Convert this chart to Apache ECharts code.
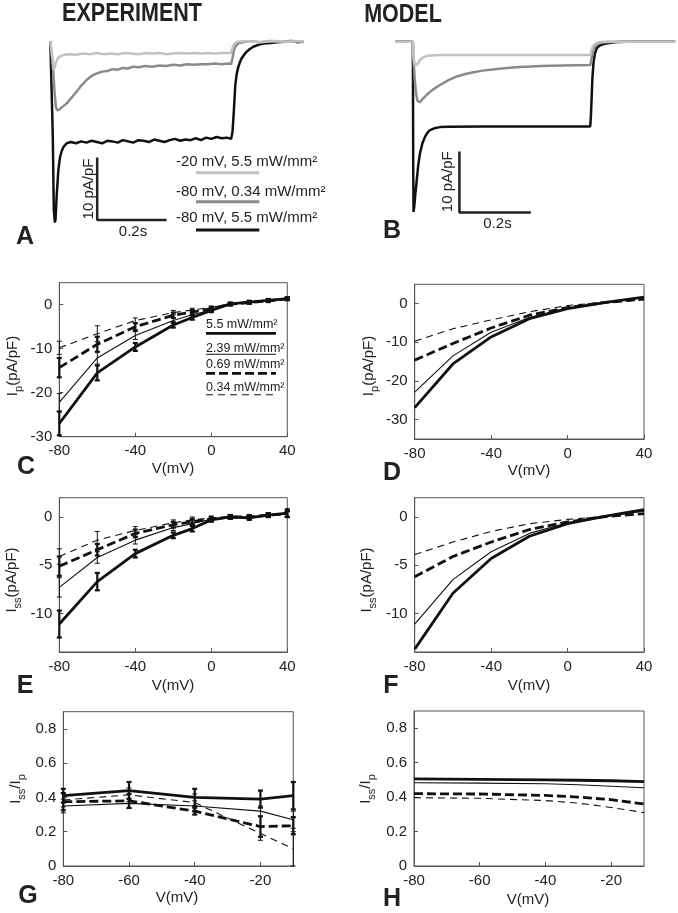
<!DOCTYPE html>
<html><head><meta charset="utf-8">
<script src="https://cdn.jsdelivr.net/npm/echarts@6/dist/echarts.min.js"></script>
<style>html,body{margin:0;padding:0;background:#fff}#c{width:678px;height:913px}</style>
</head><body><div id="c"></div>
<script>
// ---------------- DATA ----------------
// Panel A (experiment traces) : [time s, current pA/pF]
const traceA_black = [[-0.004,0],[0,0],[0.003,-15],[0.006,-27],[0.009,-29],[0.011,-28.5],[0.014,-25],[0.019,-20.6],[0.024,-18.5],[0.029,-17.5],[0.034,-16.9],[0.043,-16.3],[0.055,-16.1],[0.07,-16.3],[0.085,-16.0],[0.10,-16.2],[0.115,-15.9],[0.13,-16.1],[0.145,-16.3],[0.16,-15.9],[0.175,-16.0],[0.19,-16.2],[0.205,-15.8],[0.22,-16.0],[0.235,-16.2],[0.25,-15.8],[0.265,-15.9],[0.28,-16.1],[0.295,-15.7],[0.31,-15.9],[0.325,-16.1],[0.34,-15.8],[0.355,-15.6],[0.37,-15.9],[0.385,-15.7],[0.40,-15.8],[0.415,-15.5],[0.43,-15.8],[0.445,-15.4],[0.46,-15.6],[0.475,-15.3],[0.49,-15.5],[0.505,-15.4],[0.517,-15.6],[0.521,-14.5],[0.525,-11],[0.529,-7],[0.533,-5.2],[0.538,-4],[0.545,-2.9],[0.552,-2.3],[0.56,-1.7],[0.57,-1.2],[0.581,-0.8],[0.595,-0.5],[0.61,-0.3],[0.63,-0.2],[0.65,-0.1],[0.67,0],[0.69,0.1],[0.71,-0.1],[0.727,0.1]];
const traceA_mid = [[-0.004,0],[0,0],[0.004,-4.5],[0.008,-8],[0.012,-10.5],[0.016,-11],[0.022,-10.9],[0.03,-10.5],[0.043,-9.9],[0.057,-9.0],[0.072,-8.0],[0.086,-7.0],[0.101,-6.1],[0.115,-5.5],[0.13,-5.1],[0.145,-4.8],[0.16,-4.7],[0.175,-4.4],[0.19,-4.5],[0.205,-4.2],[0.22,-4.3],[0.235,-4.0],[0.25,-4.1],[0.27,-3.9],[0.29,-4.0],[0.31,-3.8],[0.33,-3.9],[0.35,-3.7],[0.37,-3.8],[0.39,-3.6],[0.41,-3.7],[0.43,-3.6],[0.45,-3.6],[0.47,-3.5],[0.49,-3.6],[0.51,-3.5],[0.517,-3.6],[0.521,-2.6],[0.525,-1.4],[0.53,-0.7],[0.537,-0.3],[0.55,-0.1],[0.57,0.1],[0.6,-0.1],[0.63,0.1],[0.66,0],[0.69,0.1],[0.727,0]];
const traceA_light = [[-0.004,0],[0,0],[0.003,-3],[0.006,-4.5],[0.009,-4.0],[0.013,-3.2],[0.018,-2.6],[0.025,-2.3],[0.035,-2.1],[0.05,-2.0],[0.07,-2.1],[0.09,-1.9],[0.11,-2.0],[0.13,-1.8],[0.15,-2.0],[0.17,-1.9],[0.19,-2.0],[0.21,-1.8],[0.23,-1.9],[0.25,-2.0],[0.27,-1.8],[0.29,-1.9],[0.31,-1.8],[0.33,-2.0],[0.35,-1.9],[0.37,-1.8],[0.39,-1.9],[0.41,-1.8],[0.43,-1.9],[0.45,-1.8],[0.47,-1.9],[0.49,-1.8],[0.517,-1.8],[0.521,-1.0],[0.526,-0.3],[0.535,0],[0.56,0.1],[0.6,-0.1],[0.64,0.1],[0.68,0],[0.727,0.1]];

// Panel B (model traces)
const traceB_black = [[-0.05,0],[0,0],[0.001,-20],[0.002,-27.9],[0.004,-27],[0.007,-25],[0.011,-22.7],[0.015,-20.3],[0.02,-18.3],[0.027,-16.6],[0.034,-15.6],[0.041,-14.9],[0.048,-14.5],[0.06,-14.2],[0.076,-14.0],[0.1,-13.95],[0.2,-13.9],[0.3,-13.9],[0.4,-13.9],[0.497,-13.9],[0.499,-12],[0.501,-9.0],[0.503,-6],[0.506,-3.5],[0.51,-2.0],[0.515,-1.1],[0.522,-0.7],[0.534,-0.4],[0.55,-0.2],[0.571,-0.05],[0.6,0],[0.735,0]];
const traceB_mid = [[-0.05,0],[0,0],[0.002,-3],[0.005,-6],[0.009,-8.5],[0.013,-9.7],[0.016,-10.0],[0.02,-9.9],[0.027,-9.4],[0.039,-8.7],[0.055,-7.9],[0.076,-7.1],[0.1,-6.3],[0.123,-5.7],[0.147,-5.3],[0.17,-5.0],[0.2,-4.7],[0.23,-4.5],[0.263,-4.3],[0.3,-4.15],[0.357,-4.0],[0.42,-3.9],[0.497,-3.8],[0.499,-3.3],[0.502,-2.3],[0.506,-1.3],[0.511,-0.7],[0.518,-0.35],[0.53,-0.15],[0.55,-0.05],[0.6,0],[0.735,0]];
const traceB_light = [[-0.05,0],[0,0],[0.002,-2.5],[0.005,-3.8],[0.009,-4.1],[0.013,-3.7],[0.02,-3.0],[0.028,-2.6],[0.038,-2.35],[0.05,-2.25],[0.076,-2.2],[0.2,-2.2],[0.35,-2.2],[0.497,-2.2],[0.5,-1.5],[0.504,-0.8],[0.51,-0.35],[0.52,-0.1],[0.54,0],[0.735,0]];

const legendA = ['-20 mV, 5.5 mW/mm\u00b2', '-80 mV, 0.34 mW/mm\u00b2', '-80 mV, 5.5 mW/mm\u00b2'];
const legendC = ['5.5 mW/mm\u00b2', '2.39 mW/mm\u00b2', '0.69 mW/mm\u00b2', '0.34 mW/mm\u00b2'];

// Experimental voltages
const V_exp = [-80, -60, -40, -20, -10, 0, 10, 20, 30, 40];
// Panel C: peak current (experiment)
const C_55  = [-27.0, -15.5, -9.6, -4.6, -2.9, -1.3, 0.2, 0.6, 1.0, 1.4];
const C_239 = [-22.2, -12.1, -7.0, -3.6, -2.3, -1.2, 0.1, 0.6, 1.0, 1.3];
const C_069 = [-14.3, -9.0, -5.0, -2.4, -1.7, -0.9, 0.1, 0.5, 0.9, 1.3];
const C_034 = [-9.8, -6.6, -3.6, -1.8, -1.2, -0.6, 0.2, 0.6, 1.0, 1.4];
const C_55e  = [2.7, 1.7, 0.9, 0.6, 0.5, 0.4, 0.3, 0.3, 0.3, 0.3];
const C_239e = [2.0, 1.4, 0.9, 0.6, 0.5, 0.4, 0.3, 0.3, 0.3, 0.3];
const C_069e = [2.2, 1.7, 0.8, 0.6, 0.5, 0.4, 0.3, 0.3, 0.3, 0.3];
const C_034e = [1.5, 1.8, 0.6, 0.5, 0.4, 0.3, 0.3, 0.3, 0.3, 0.3];
// Panel E: steady-state current (experiment)
const E_55  = [-11.1, -6.7, -3.8, -1.9, -1.2, -0.3, 0.0, -0.1, 0.2, 0.4];
const E_239 = [-7.3, -4.2, -2.4, -1.1, -0.7, -0.2, 0.0, -0.05, 0.2, 0.3];
const E_069 = [-5.1, -3.4, -1.7, -0.8, -0.5, -0.2, 0.0, 0.0, 0.2, 0.3];
const E_034 = [-4.1, -2.4, -1.4, -0.6, -0.3, -0.1, 0.0, 0.0, 0.2, 0.3];
const E_55e  = [1.4, 0.9, 0.4, 0.3, 0.3, 0.2, 0.2, 0.2, 0.2, 0.4];
const E_239e = [1.0, 0.6, 0.4, 0.3, 0.3, 0.2, 0.2, 0.2, 0.2, 0.3];
const E_069e = [1.0, 0.6, 0.4, 0.3, 0.3, 0.2, 0.2, 0.2, 0.2, 0.3];
const E_034e = [0.8, 0.9, 0.4, 0.3, 0.3, 0.2, 0.2, 0.2, 0.2, 0.3];
// Panel G: Iss/Ip (experiment)
const V_G = [-80, -60, -40, -20, -10];
const G_55  = [0.41, 0.44, 0.40, 0.39, 0.41];
const G_239 = [0.35, 0.365, 0.35, 0.32, 0.27];
const G_069 = [0.375, 0.38, 0.32, 0.23, 0.235];
const G_034 = [0.385, 0.415, 0.37, 0.19, 0.10];
const G_55e  = [0.04, 0.05, 0.05, 0.05, 0.08];
const G_239e = [0.04, 0.03, 0.03, 0.03, 0.05];
const G_069e = [0.05, 0.04, 0.02, 0.06, 0.05];
const G_034e = [0.04, 0.04, 0.05, 0.04, 0.10];

// Model voltages
const V_mod = [-80, -60, -40, -20, 0, 20, 40];
const D_55  = [-26.9, -15.6, -8.6, -3.9, -1.3, 0.3, 1.7];
const D_239 = [-22.9, -13.5, -7.4, -3.6, -1.2, 0.3, 1.6];
const D_069 = [-14.6, -10.3, -6.3, -3.0, -1.0, 0.3, 1.2];
const D_034 = [-9.7, -6.5, -4.2, -2.1, -0.5, 0.4, 1.0];
const F_55  = [-13.7, -7.9, -4.3, -2.0, -0.7, 0.1, 0.75];
const F_239 = [-11.1, -6.5, -3.6, -1.7, -0.6, 0.1, 0.6];
const F_069 = [-6.2, -4.1, -2.6, -1.3, -0.5, 0.05, 0.35];
const F_034 = [-3.9, -2.6, -1.5, -0.7, -0.25, 0.05, 0.3];
const V_H = [-80, -60, -40, -30, -20, -10];
const H_55  = [0.506, 0.503, 0.500, 0.498, 0.495, 0.49];
const H_239 = [0.483, 0.481, 0.478, 0.472, 0.463, 0.454];
const H_069 = [0.42, 0.418, 0.41, 0.40, 0.385, 0.36];
const H_034 = [0.397, 0.393, 0.38, 0.365, 0.34, 0.31];

// ---------------- HELPERS ----------------
const FONT = '"Liberation Sans", Arial, Helvetica, sans-serif';
const TXT = '#222';
const AX = '#555';
const zip = (xs, ys) => xs.map((x, i) => [x, ys[i]]);
const zip3 = (xs, ys, es) => xs.map((x, i) => [x, ys[i], es[i]]);

const STY = {
  s55:  {color: '#111', width: 2.8, type: 'solid'},
  s239: {color: '#111', width: 1.1, type: 'solid'},
  s069: {color: '#111', width: 2.8, type: [9, 4]},
  s034: {color: '#111', width: 1.1, type: [7, 5]}
};

function lineSeries(idx, xs, ys, key) {
  return {type: 'line', xAxisIndex: idx, yAxisIndex: idx, data: zip(xs, ys), symbol: 'none',
    lineStyle: Object.assign({}, STY[key]), silent: true, z: 3};
}
function errBar(lw, cap) {
  return function (params, api) {
    const cs = params.coordSys;
    const x = api.value(0), y = api.value(1), e = api.value(2);
    const a = api.coord([x, y + e]), b = api.coord([x, y - e]);
    const lo = cs.y, hi = cs.y + cs.height;
    const y1 = Math.max(lo, Math.min(hi, a[1])), y2 = Math.max(lo, Math.min(hi, b[1]));
    const px = a[0];
    const st = {stroke: '#111', lineWidth: lw};
    const ch = [{type: 'line', shape: {x1: px, y1: y1, x2: px, y2: y2}, style: st}];
    if (a[1] >= lo) ch.push({type: 'line', shape: {x1: px - cap, y1: y1, x2: px + cap, y2: y1}, style: st});
    if (b[1] <= hi) ch.push({type: 'line', shape: {x1: px - cap, y1: y2, x2: px + cap, y2: y2}, style: st});
    return {type: 'group', children: ch};
  };
}
function errSeries(idx, xs, ys, es, lw) {
  return {type: 'custom', xAxisIndex: idx, yAxisIndex: idx, data: zip3(xs, ys, es),
    renderItem: errBar(lw, 2.5), silent: true, z: 4};
}
function traceSeries(idx, data, color, w) {
  return {type: 'line', xAxisIndex: idx, yAxisIndex: idx, data: data, symbol: 'none',
    lineStyle: {color: color, width: w}, silent: true};
}

const grids = [
  {left: 50, top: 35.5, width: 255, height: 193.1},
  {left: 395, top: 35.6, width: 280.2, height: 189.1},
  {left: 59.3, top: 282.7, width: 228, height: 154},
  {left: 414.7, top: 284.3, width: 229.3, height: 154.7},
  {left: 59.3, top: 497.7, width: 228, height: 154.3},
  {left: 414.7, top: 497.7, width: 229.3, height: 154.3},
  {left: 63.3, top: 711.7, width: 230, height: 154.3},
  {left: 414, top: 711, width: 230, height: 155}
].map((g, i) => Object.assign({containLabel: false, outerBoundsMode: 'none',
  show: i >= 2, borderColor: AX, borderWidth: 1, backgroundColor: 'transparent'}, g));

function vAxis(grid, o) {
  return Object.assign({
    type: 'value', gridIndex: grid, splitLine: {show: false},
    axisLine: {show: true, onZero: false, lineStyle: {color: AX, width: 1}},
    axisTick: {show: true, inside: true, length: 4, lineStyle: {color: AX}},
    axisLabel: {fontSize: 15, fontFamily: FONT, color: TXT, margin: 7}
  }, o);
}
function hidden(grid, min, max) {
  return {type: 'value', gridIndex: grid, min: min, max: max, show: false, splitLine: {show: false}};
}
const lab = (o) => Object.assign({fontSize: 15, fontFamily: FONT, color: TXT, margin: 7}, o);

const xAxes = [
  hidden(0, -0.005, 0.73), hidden(1, -0.05, 0.735),
  vAxis(2, {min: -80, max: 40, interval: 40}),
  vAxis(3, {min: -80, max: 40, interval: 40}),
  vAxis(4, {min: -80, max: 40, interval: 40}),
  vAxis(5, {min: -80, max: 40, interval: 40}),
  vAxis(6, {min: -80, max: -10, interval: 20, axisLabel: lab({showMaxLabel: false})}),
  vAxis(7, {min: -80, max: -10, interval: 20, axisLabel: lab({showMaxLabel: false})})
];
const yAxes = [
  hidden(0, -30, 1), hidden(1, -30, 1),
  vAxis(2, {min: -30, max: 5, interval: 10, axisLabel: lab({showMaxLabel: false})}),
  vAxis(3, {min: -35, max: 5, splitNumber: 4, axisLabel: lab({showMaxLabel: false, showMinLabel: false})}),
  vAxis(4, {min: -14, max: 2, splitNumber: 3, axisLabel: lab({showMaxLabel: false, showMinLabel: false})}),
  vAxis(5, {min: -14, max: 2, splitNumber: 3, axisLabel: lab({showMaxLabel: false, showMinLabel: false})}),
  vAxis(6, {min: 0, max: 0.9, interval: 0.2, axisLabel: lab({showMaxLabel: false})}),
  vAxis(7, {min: 0, max: 0.9, interval: 0.2, axisLabel: lab({showMaxLabel: false})})
];

// scale bars (10 pA/pF, 0.2 s)
const SCALE_I = 10, SCALE_T = 0.2;
function scaleBar(idx, t0, i0) {
  return {type: 'line', xAxisIndex: idx, yAxisIndex: idx, symbol: 'none', silent: true,
    data: [[t0, i0 + SCALE_I], [t0, i0], [t0 + SCALE_T, i0]], lineStyle: {color: '#222', width: 2.5}};
}

const series = [
  traceSeries(0, traceA_black, '#111', 2.5),
  traceSeries(0, traceA_mid, '#8a8a8a', 2.5),
  traceSeries(0, traceA_light, '#c2c2c2', 2.5),
  scaleBar(0, 0.131, -28.6),
  traceSeries(1, traceB_black, '#111', 2.5),
  traceSeries(1, traceB_mid, '#8a8a8a', 2.5),
  traceSeries(1, traceB_light, '#c2c2c2', 2.5),
  scaleBar(1, 0.1305, -28.0),
  // C
  lineSeries(2, V_exp, C_55, 's55'), lineSeries(2, V_exp, C_239, 's239'),
  lineSeries(2, V_exp, C_069, 's069'), lineSeries(2, V_exp, C_034, 's034'),
  errSeries(2, V_exp, C_55, C_55e, 2.2), errSeries(2, V_exp, C_239, C_239e, 1),
  errSeries(2, V_exp, C_069, C_069e, 2.2), errSeries(2, V_exp, C_034, C_034e, 1),
  // D
  lineSeries(3, V_mod, D_55, 's55'), lineSeries(3, V_mod, D_239, 's239'),
  lineSeries(3, V_mod, D_069, 's069'), lineSeries(3, V_mod, D_034, 's034'),
  // E
  lineSeries(4, V_exp, E_55, 's55'), lineSeries(4, V_exp, E_239, 's239'),
  lineSeries(4, V_exp, E_069, 's069'), lineSeries(4, V_exp, E_034, 's034'),
  errSeries(4, V_exp, E_55, E_55e, 2.2), errSeries(4, V_exp, E_239, E_239e, 1),
  errSeries(4, V_exp, E_069, E_069e, 2.2), errSeries(4, V_exp, E_034, E_034e, 1),
  // F
  lineSeries(5, V_mod, F_55, 's55'), lineSeries(5, V_mod, F_239, 's239'),
  lineSeries(5, V_mod, F_069, 's069'), lineSeries(5, V_mod, F_034, 's034'),
  // G
  lineSeries(6, V_G, G_55, 's55'), lineSeries(6, V_G, G_239, 's239'),
  lineSeries(6, V_G, G_069, 's069'), lineSeries(6, V_G, G_034, 's034'),
  errSeries(6, V_G, G_55, G_55e, 2.2), errSeries(6, V_G, G_239, G_239e, 1),
  errSeries(6, V_G, G_069, G_069e, 2.2), errSeries(6, V_G, G_034, G_034e, 1),
  // H
  lineSeries(7, V_H, H_55, 's55'), lineSeries(7, V_H, H_239, 's239'),
  lineSeries(7, V_H, H_069, 's069'), lineSeries(7, V_H, H_034, 's034')
];

// ---------------- GRAPHIC TEXT ----------------
function txt(x, y, text, size, opts) {
  return Object.assign({type: 'text', x: x, y: y, silent: true, z: 10,
    style: {text: text, font: (opts && opts.bold ? 'bold ' : '') + size + 'px ' + FONT,
      fill: TXT, align: 'center', verticalAlign: 'middle', textAlign: 'center', textVerticalAlign: 'middle'}},
    opts && opts.extra ? opts.extra : {});
}
function ylab(x, y, text) {
  return {type: 'text', x: x, y: y, rotation: Math.PI / 2, silent: true, z: 10,
    style: {text: text, fill: TXT, align: 'center', verticalAlign: 'middle', textAlign: 'center', textVerticalAlign: 'middle',
      font: '15px ' + FONT,
      rich: {
        i: {fontSize: 15, fontFamily: FONT, lineHeight: 22, fill: TXT, color: TXT},
        s: {fontSize: 11, fontFamily: FONT, lineHeight: 11, verticalAlign: 'bottom', fill: TXT, color: TXT}
      }}};
}
function hline(x1, x2, y, color, w, dash) {
  return {type: 'line', silent: true, z: 10, shape: {x1: x1, y1: y, x2: x2, y2: y},
    style: {stroke: color, lineWidth: w, lineDash: dash || null}};
}
const graphic = [
  txt(132, 14, 'EXPERIMENT', 25, {bold: true, extra: {scaleX: 0.86}}),
  txt(403, 15, 'MODEL', 25, {bold: true, extra: {scaleX: 0.86}}),
  txt(25, 237, 'A', 25, {bold: true}), txt(392, 231, 'B', 25, {bold: true}),
  txt(26, 467, 'C', 25, {bold: true}), txt(392, 473, 'D', 25, {bold: true}),
  txt(25, 686, 'E', 25, {bold: true}), txt(391, 686, 'F', 25, {bold: true}),
  txt(28, 896, 'G', 25, {bold: true}), txt(392, 899, 'H', 25, {bold: true}),
  // scale bar labels
  txt(88.5, 189, '10 pA/pF', 15, {extra: {rotation: Math.PI / 2}}),
  txt(133, 232, '0.2s', 15),
  txt(448, 181.7, '10 pA/pF', 15, {extra: {rotation: Math.PI / 2}}),
  txt(497.5, 224, '0.2s', 15),
  // legend A
  {type: 'text', x: 176, y: 161.7, silent: true, z: 10, style: {text: legendA[0], font: '15px ' + FONT, fill: TXT, verticalAlign: 'middle', textVerticalAlign: 'middle'}},
  hline(196, 259.3, 172.7, '#c2c2c2', 3),
  {type: 'text', x: 176, y: 191.7, silent: true, z: 10, style: {text: legendA[1], font: '15px ' + FONT, fill: TXT, verticalAlign: 'middle', textVerticalAlign: 'middle'}},
  hline(196, 259.3, 201.7, '#8a8a8a', 3),
  {type: 'text', x: 176, y: 218.3, silent: true, z: 10, style: {text: legendA[2], font: '15px ' + FONT, fill: TXT, verticalAlign: 'middle', textVerticalAlign: 'middle'}},
  hline(196, 259.3, 230, '#111', 3),
  // legend C
  {type: 'text', x: 206, y: 324.3, silent: true, z: 10, style: {text: legendC[0], font: '12.5px ' + FONT, fill: TXT, verticalAlign: 'middle', textVerticalAlign: 'middle'}},
  hline(206, 276, 333.3, '#111', 2.8),
  {type: 'text', x: 206, y: 348.3, silent: true, z: 10, style: {text: legendC[1], font: '12.5px ' + FONT, fill: TXT, verticalAlign: 'middle', textVerticalAlign: 'middle'}},
  hline(206, 276, 354.3, '#111', 1.1),
  {type: 'text', x: 206, y: 365, silent: true, z: 10, style: {text: legendC[2], font: '12.5px ' + FONT, fill: TXT, verticalAlign: 'middle', textVerticalAlign: 'middle'}},
  hline(206, 276, 373.3, '#111', 2.8, [9, 4]),
  {type: 'text', x: 206, y: 387.3, silent: true, z: 10, style: {text: legendC[3], font: '12.5px ' + FONT, fill: TXT, verticalAlign: 'middle', textVerticalAlign: 'middle'}},
  hline(206, 276, 394.8, '#111', 1.1, [7, 5]),
  // axis names
  ylab(13, 366, '{i|I}{s|p}{i|(pA/pF)}'),
  ylab(369, 366, '{i|I}{s|p}{i|(pA/pF)}'),
  ylab(12, 580, '{i|I}{s|ss}{i|(pA/pF)}'),
  ylab(367, 580, '{i|I}{s|ss}{i|(pA/pF)}'),
  ylab(16, 789, '{i|I}{s|ss}{i|/I}{s|p}'),
  ylab(366, 789, '{i|I}{s|ss}{i|/I}{s|p}'),
  txt(173, 469, 'V(mV)', 15), txt(529, 471, 'V(mV)', 15),
  txt(173, 686, 'V(mV)', 15), txt(529, 686, 'V(mV)', 15),
  txt(177, 898, 'V(mV)', 15), txt(528, 900, 'V(mV)', 15)
];

const chart = echarts.init(document.getElementById('c'), null, {renderer: 'canvas'});
chart.setOption({
  animation: false,
  backgroundColor: '#fff',
  grid: grids,
  xAxis: xAxes,
  yAxis: yAxes,
  series: series,
  graphic: graphic
});
</script>
</body></html>
